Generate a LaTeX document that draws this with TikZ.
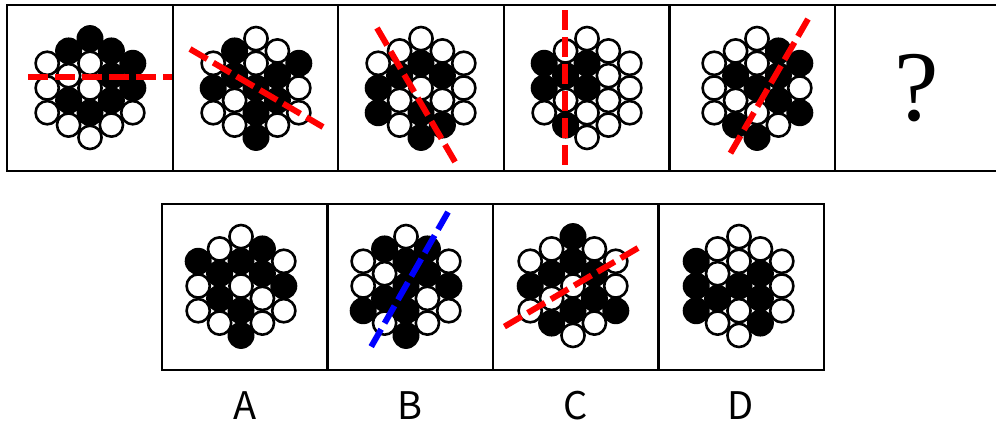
\documentclass[tikz,border=0pt]{standalone}
\usepackage{fontspec}
\newfontfamily\labfont{Noto Sans CJK SC}
\newfontfamily\qfont{Liberation Serif}
\newcommand\hexpos{-2/-1,-2/0,-2/1,-1/-1.5,-1/-0.5,-1/0.5,-1/1.5,0/-2,0/-1,0/0,0/1,0/2,1/-1.5,1/-0.5,1/0.5,1/1.5,2/-1,2/0,2/1}
\newcommand\hexfig[3]{%
  \foreach \hx/\hy [count=\hi from 0] in \hexpos {%
    \pgfmathtruncatemacro\bitv{{#3}[\hi]}%
    \ifnum\bitv=1
      \fill[black] ({#1+\hx*21.4},{#2+\hy*24.7}) circle[radius=13.5];
    \fi
  }%
  \foreach \hx/\hy [count=\hi from 0] in \hexpos {%
    \pgfmathtruncatemacro\bitv{{#3}[\hi]}%
    \ifnum\bitv=0
      \draw[ball, fill=white] ({#1+\hx*21.4},{#2+\hy*24.7}) circle[radius=11.6];
    \fi
  }}
\begin{document}
\begin{tikzpicture}[x=1pt,y=-1pt,
  frame/.style={line width=2.2pt, draw=black},
  ball/.style={line width=2.6pt, draw=black},
  cut/.style={line width=6pt, dash pattern=on 20pt off 7pt},
  lab/.style={font=\labfont\fontsize{38}{40}\selectfont, inner sep=0pt}]
\useasboundingbox (0,0) rectangle (996,424);
\clip (0,0) rectangle (996,424);
\fill[white] (0,0) rectangle (996,424);
% top row frames
\foreach \i in {0,...,5}{
  \draw[frame] ({7+165.6*\i},5) rectangle ({7+165.6*(\i+1)},171);
}
% bottom row frames
\foreach \i in {0,...,3}{
  \draw[frame] ({162+165.5*\i},204) rectangle ({162+165.5*(\i+1)},370);
}
% figures
\hexfig{90}{88}{0,0,0, 1,0,1,0, 1,0,0,1,0, 1,1,1,0, 1,1,0}
\hexfig{256}{88}{0,1,0, 1,1,0,0, 0,0,1,1,1, 0,1,1,0, 1,0,0}
\hexfig{421}{88}{0,1,1, 0,1,0,0, 0,1,0,1,1, 0,1,0,1, 0,0,0}
\hexfig{587}{88}{1,1,0, 0,1,0,1, 0,1,1,0,0, 0,0,0,0, 0,0,0}
\hexfig{757}{88}{0,0,0, 0,1,0,1, 0,0,1,0,1, 1,1,1,0, 1,0,1}
\hexfig{241}{286}{1,0,0, 0,1,1,0, 0,1,0,1,1, 1,1,0,0, 0,1,0}
\hexfig{406}{286}{0,0,1, 1,0,1,0, 0,1,1,1,1, 1,1,0,0, 0,1,0}
\hexfig{573}{286}{0,1,0, 0,1,0,1, 1,1,0,1,0, 0,1,1,0, 0,0,1}
\hexfig{739}{286}{1,1,1, 0,0,1,0, 0,0,1,0,0, 0,1,1,1, 0,0,0}
% cutting lines
\coordinate (l1a) at (28,77);   \coordinate (l1b) at (172,77);
\coordinate (l2a) at (190,49);  \coordinate (l2b) at (323,127);
\coordinate (l3a) at (377,28);  \coordinate (l3b) at (458,167);
\coordinate (l4a) at (565,10);  \coordinate (l4b) at (565,168);
\coordinate (l5a) at (808,19);  \coordinate (l5b) at (730,154);
\coordinate (lBa) at (448,212); \coordinate (lBb) at (371,347);
\coordinate (lCa) at (638,248); \coordinate (lCb) at (502,328);
\draw[cut, red] (l1a) -- (l1b);
\draw[cut, red] (l2a) -- (l2b);
\draw[cut, red] (l3a) -- (l3b);
\draw[cut, red] (l4a) -- (l4b);
\draw[cut, red] (l5a) -- (l5b);
\draw[cut, blue] (lBa) -- (lBb);
\draw[cut, red] (lCa) -- (lCb);
% question mark
\node[font=\qfont\fontsize{100}{100}\selectfont, inner sep=0pt] (q) at (917,88) {?};
% labels
\node[lab] (labA) at (245,406) {A};
\node[lab] (labB) at (410,406) {B};
\node[lab] (labC) at (576,406) {C};
\node[lab] (labD) at (741,406) {D};
\end{tikzpicture}
\end{document}
